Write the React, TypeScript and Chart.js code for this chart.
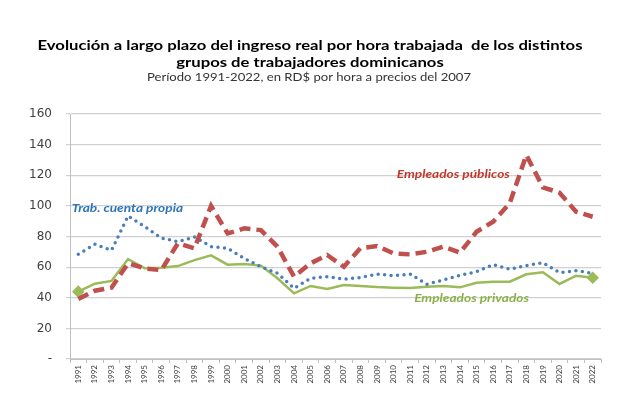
import React, { useEffect, useRef } from 'react';
import { Chart, registerables } from 'chart.js';

Chart.register(...registerables);

const years = ['1991','1992','1993','1994','1995','1996','1997','1998','1999','2000','2001','2002','2003','2004','2005','2006','2007','2008','2009','2010','2011','2012','2013','2014','2015','2016','2017','2018','2019','2020','2021','2022'];

const cuentaPropia = [68.4, 75, 71, 93.4, 86.5, 79, 76.6, 79.7, 73.4, 72.3, 65.7, 60.3, 56, 46.2, 52.7, 53.8, 52.2, 53.1, 55.5, 54.4, 55.5, 48.8, 51.6, 54.6, 57, 61.6, 58.6, 61, 62.9, 56.4, 57.7, 56];
const publicos = [39.2, 44.6, 46.6, 62.5, 59.2, 58, 75.5, 72.3, 100, 82, 85.3, 84.2, 73.4, 53.8, 62.5, 67.9, 60.3, 72.3, 73.8, 69, 68.3, 70, 73.4, 69.4, 83.1, 89.7, 101.7, 133.2, 112.1, 108.6, 96.2, 92.9];
const privados = [44, 49.2, 51, 65.3, 59.2, 59.6, 60.7, 64.6, 67.7, 61.6, 62, 61, 52.7, 42.9, 47.7, 45.7, 48.3, 47.7, 47, 46.6, 46.4, 47.2, 47.7, 46.8, 49.8, 50.5, 50.5, 55.3, 56.6, 49, 54.4, 53.1];

const titleLines = ['Evolución a largo plazo del ingreso real por hora trabajada  de los distintos', 'grupos de trabajadores dominicanos'];
const subtitle = 'Período 1991-2022, en RD$ por hora a precios del 2007';

// series labels: [text, category offset, value, color, align]
const seriesLabels: [string, number, number, string, CanvasTextAlign][] = [
  ['Trab. cuenta propia', -0.4, 98.5, '#2E75B6', 'left'],
  ['Empleados públicos', 22.6, 120.3, '#C0392B', 'center'],
  ['Empleados privados', 23.7, 39.8, '#8DB04A', 'center'],
];

const FONT = 'Lato, "Open Sans", "Liberation Sans", sans-serif';
const SX = 1.19;

function drawScaled(ctx: CanvasRenderingContext2D, text: string, x: number, y: number, align: CanvasTextAlign) {
  ctx.save();
  ctx.translate(x, y);
  ctx.scale(SX, 1);
  ctx.textAlign = align;
  ctx.textBaseline = 'middle';
  ctx.fillText(text, 0, 0);
  ctx.restore();
}

export default function App() {
  const ref = useRef<HTMLCanvasElement>(null);
  useEffect(() => {
    if (!ref.current) return;
    const textPlugin = {
      id: 'texts',
      afterDraw(chart: any) {
        const ctx = chart.ctx;
        ctx.save();
        ctx.fillStyle = '#000';
        ctx.font = `bold 14px ${FONT}`;
        drawScaled(ctx, titleLines[0], 310, 45, 'center');
        drawScaled(ctx, titleLines[1], 310, 62, 'center');
        ctx.fillStyle = '#333';
        ctx.font = `11px ${FONT}`;
        drawScaled(ctx, subtitle, 309, 77, 'center');
        const xs = chart.scales.x;
        const ys = chart.scales.y;
        const step = xs.getPixelForValue(1) - xs.getPixelForValue(0);
        seriesLabels.forEach(([t, i, v, c, a]) => {
          ctx.fillStyle = c;
          ctx.font = `italic bold 11.5px ${FONT}`;
          drawScaled(ctx, t, xs.getPixelForValue(0) + i * step, ys.getPixelForValue(v), a);
        });
        ctx.restore();
      },
    };
    const chart = new Chart(ref.current, {
      type: 'line',
      data: {
        labels: years,
        datasets: [
          {
            label: 'Empleados privados',
            data: privados,
            borderColor: '#9BBB59',
            backgroundColor: '#9BBB59',
            borderWidth: 2.5,
            pointRadius: privados.map((_, i) => (i === 0 || i === privados.length - 1 ? 4.5 : 0)),
            pointStyle: 'rectRot',
            tension: 0,
            order: 3,
          },
          {
            label: 'Trab. cuenta propia',
            data: cuentaPropia,
            borderColor: '#4A7EBB',
            borderWidth: 3.5,
            borderDash: [0, 6.5],
            borderCapStyle: 'round',
            pointRadius: 0,
            tension: 0,
            order: 2,
          },
          {
            label: 'Empleados públicos',
            data: publicos,
            borderColor: '#C0504D',
            borderWidth: 4.5,
            borderDash: [11, 6],
            pointRadius: 0,
            tension: 0,
            order: 1,
          },
        ],
      },
      options: {
        animation: false,
        responsive: false,
        layout: { padding: { top: 114, right: 31, bottom: 0, left: 0 } },
        plugins: { legend: { display: false }, tooltip: { enabled: false } },
        scales: {
          x: {
            offset: true,
            afterFit: (s: any) => { s.height = 52; },
            grid: { display: true, drawOnChartArea: false, offset: true, tickLength: 4, color: '#BFBFBF' },
            border: { color: '#BFBFBF' },
            ticks: { minRotation: 90, maxRotation: 90, autoSkip: false, font: { size: 8, family: FONT }, color: '#404040', padding: 2 },
          },
          y: {
            min: 0,
            max: 160,
            afterFit: (s: any) => { s.width = 70; },
            grid: { color: '#D0D0D0', tickLength: 4, lineWidth: 1.2 },
            border: { color: '#BFBFBF' },
            ticks: {
              stepSize: 20,
              padding: 14,
              font: { size: 12, family: '"DejaVu Sans", sans-serif' },
              color: '#404040',
              callback: (v: any) => (v === 0 ? '-' : String(v)),
            },
          },
        },
      },
      plugins: [textPlugin],
    });
    return () => chart.destroy();
  }, []);
  return (
    <div style={{ position: 'fixed', left: 0, top: 0, width: 632, height: 411, background: '#fff' }}>
      <canvas ref={ref} width={632} height={411} />
    </div>
  );
}
